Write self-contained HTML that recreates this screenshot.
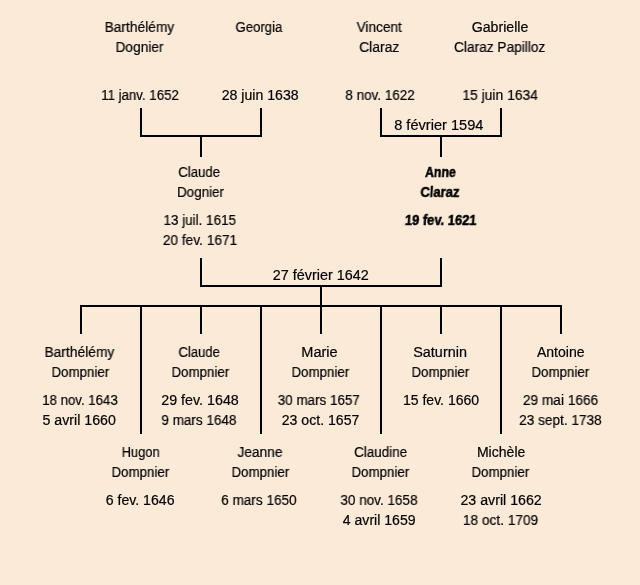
<!DOCTYPE html>
<html><head><meta charset="utf-8"><style>
html,body{margin:0;padding:0;}
body{width:640px;height:585px;background:#FCEAD8;position:relative;overflow:hidden;font-family:"Liberation Sans",sans-serif;font-size:14px;color:#000;}
.t{-webkit-text-stroke:0.2px #000;position:absolute;width:300px;text-align:center;line-height:16px;height:16px;white-space:nowrap;}
.t span{display:inline-block;transform-origin:50% 50%;will-change:transform;}
.b{font-weight:bold;-webkit-text-stroke:0.5px #000;}
i{position:absolute;background:#000;display:block;}
</style></head><body>
<i style="left:140px;top:108px;width:2px;height:29px"></i><i style="left:260px;top:108px;width:2px;height:29px"></i><i style="left:140px;top:135px;width:122px;height:2px"></i><i style="left:200px;top:137px;width:2px;height:20px"></i><i style="left:380px;top:108px;width:2px;height:29px"></i><i style="left:500px;top:108px;width:2px;height:29px"></i><i style="left:380px;top:135px;width:122px;height:2px"></i><i style="left:440px;top:137px;width:2px;height:20px"></i><i style="left:200px;top:258px;width:2px;height:29px"></i><i style="left:440px;top:258px;width:2px;height:29px"></i><i style="left:200px;top:285px;width:242px;height:2px"></i><i style="left:320px;top:287px;width:2px;height:18px"></i><i style="left:80px;top:305px;width:482px;height:2px"></i><i style="left:80px;top:307px;width:2px;height:27px"></i><i style="left:200px;top:307px;width:2px;height:27px"></i><i style="left:320px;top:307px;width:2px;height:27px"></i><i style="left:440px;top:307px;width:2px;height:27px"></i><i style="left:560px;top:307px;width:2px;height:27px"></i><i style="left:140px;top:307px;width:2px;height:127px"></i><i style="left:260px;top:307px;width:2px;height:127px"></i><i style="left:380px;top:307px;width:2px;height:127px"></i><i style="left:500px;top:307px;width:2px;height:127px"></i>
<div class="t" style="left:-10.11px;top:19px"><span style="transform:scaleX(0.9831)">Barthélémy</span></div>
<div class="t" style="left:-10.00px;top:39px"><span style="transform:scaleX(0.9796)">Dognier</span></div>
<div class="t" style="left:-10.01px;top:87px"><span style="transform:scaleX(0.9463)">11 janv. 1652</span></div>
<div class="t" style="left:109.40px;top:19px"><span style="transform:scaleX(0.9400)">Georgia</span></div>
<div class="t" style="left:110.13px;top:87px"><span style="transform:scaleX(1.0079)">28 juin 1638</span></div>
<div class="t" style="left:229.73px;top:19px"><span style="transform:scaleX(0.9723)">Vincent</span></div>
<div class="t" style="left:229.72px;top:39px"><span style="transform:scaleX(0.9875)">Claraz</span></div>
<div class="t" style="left:230.05px;top:87px"><span style="transform:scaleX(0.9625)">8 nov. 1622</span></div>
<div class="t" style="left:350.00px;top:19px"><span style="transform:scaleX(1.0125)">Gabrielle</span></div>
<div class="t" style="left:350.17px;top:39px"><span style="transform:scaleX(0.9785)">Claraz Papilloz</span></div>
<div class="t" style="left:350.12px;top:87px"><span style="transform:scaleX(0.9882)">15 juin 1634</span></div>
<div class="t" style="left:289.27px;top:117px"><span style="transform:scaleX(1.0419)">8 février 1594</span></div>
<div class="t" style="left:49.29px;top:164px"><span style="transform:scaleX(0.9422)">Claude</span></div>
<div class="t" style="left:50.70px;top:184px"><span style="transform:scaleX(0.9592)">Dognier</span></div>
<div class="t" style="left:50.05px;top:212px"><span style="transform:scaleX(0.9592)">13 juil. 1615</span></div>
<div class="t" style="left:50.40px;top:232px"><span style="transform:scaleX(0.9776)">20 fev. 1671</span></div>
<div class="t b" style="left:290.29px;top:164px"><span style="transform:scaleX(0.8743) skewX(-4deg)">Anne</span></div>
<div class="t b" style="left:290.01px;top:184px"><span style="transform:scaleX(0.9286) skewX(-4deg)">Claraz</span></div>
<div class="t b" style="left:290.49px;top:212px"><span style="transform:scaleX(0.9231) skewX(-4deg)">19 fev. 1621</span></div>
<div class="t" style="left:170.26px;top:267px"><span style="transform:scaleX(1.0277)">27 février 1642</span></div>
<div class="t" style="left:-70.11px;top:344px"><span style="transform:scaleX(0.9859)">Barthélémy</span></div>
<div class="t" style="left:-69.16px;top:364px"><span style="transform:scaleX(0.9508)">Dompnier</span></div>
<div class="t" style="left:-69.85px;top:392px"><span style="transform:scaleX(0.9437)">18 nov. 1643</span></div>
<div class="t" style="left:-70.73px;top:412px"><span style="transform:scaleX(1.0137)">5 avril 1660</span></div>
<div class="t" style="left:49.29px;top:344px"><span style="transform:scaleX(0.9333)">Claude</span></div>
<div class="t" style="left:50.84px;top:364px"><span style="transform:scaleX(0.9508)">Dompnier</span></div>
<div class="t" style="left:50.20px;top:392px"><span style="transform:scaleX(1.0197)">29 fev. 1648</span></div>
<div class="t" style="left:49.39px;top:412px"><span style="transform:scaleX(0.9641)">9 mars 1648</span></div>
<div class="t" style="left:169.79px;top:344px"><span style="transform:scaleX(1.0371)">Marie</span></div>
<div class="t" style="left:170.84px;top:364px"><span style="transform:scaleX(0.9508)">Dompnier</span></div>
<div class="t" style="left:169.09px;top:392px"><span style="transform:scaleX(0.9581)">30 mars 1657</span></div>
<div class="t" style="left:170.22px;top:412px"><span style="transform:scaleX(1.0065)">23 oct. 1657</span></div>
<div class="t" style="left:289.86px;top:344px"><span style="transform:scaleX(1.0288)">Saturnin</span></div>
<div class="t" style="left:290.84px;top:364px"><span style="transform:scaleX(0.9508)">Dompnier</span></div>
<div class="t" style="left:290.60px;top:392px"><span style="transform:scaleX(1.0000)">15 fev. 1660</span></div>
<div class="t" style="left:410.33px;top:344px"><span style="transform:scaleX(1.0042)">Antoine</span></div>
<div class="t" style="left:410.84px;top:364px"><span style="transform:scaleX(0.9508)">Dompnier</span></div>
<div class="t" style="left:410.21px;top:392px"><span style="transform:scaleX(0.9766)">29 mai 1666</span></div>
<div class="t" style="left:410.11px;top:412px"><span style="transform:scaleX(0.9729)">23 sept. 1738</span></div>
<div class="t" style="left:-9.69px;top:444px"><span style="transform:scaleX(0.9195)">Hugon</span></div>
<div class="t" style="left:-9.16px;top:464px"><span style="transform:scaleX(0.9508)">Dompnier</span></div>
<div class="t" style="left:-10.39px;top:492px"><span style="transform:scaleX(1.0074)">6 fev. 1646</span></div>
<div class="t" style="left:109.95px;top:444px"><span style="transform:scaleX(0.9761)">Jeanne</span></div>
<div class="t" style="left:110.84px;top:464px"><span style="transform:scaleX(0.9508)">Dompnier</span></div>
<div class="t" style="left:109.19px;top:492px"><span style="transform:scaleX(0.9692)">6 mars 1650</span></div>
<div class="t" style="left:230.31px;top:444px"><span style="transform:scaleX(0.9582)">Claudine</span></div>
<div class="t" style="left:230.84px;top:464px"><span style="transform:scaleX(0.9508)">Dompnier</span></div>
<div class="t" style="left:229.25px;top:492px"><span style="transform:scaleX(0.9637)">30 nov. 1658</span></div>
<div class="t" style="left:228.97px;top:512px"><span style="transform:scaleX(1.0055)">4 avril 1659</span></div>
<div class="t" style="left:350.71px;top:444px"><span style="transform:scaleX(1.0042)">Michèle</span></div>
<div class="t" style="left:350.84px;top:464px"><span style="transform:scaleX(0.9508)">Dompnier</span></div>
<div class="t" style="left:350.66px;top:492px"><span style="transform:scaleX(1.0150)">23 avril 1662</span></div>
<div class="t" style="left:350.22px;top:512px"><span style="transform:scaleX(0.9766)">18 oct. 1709</span></div>
</body></html>
